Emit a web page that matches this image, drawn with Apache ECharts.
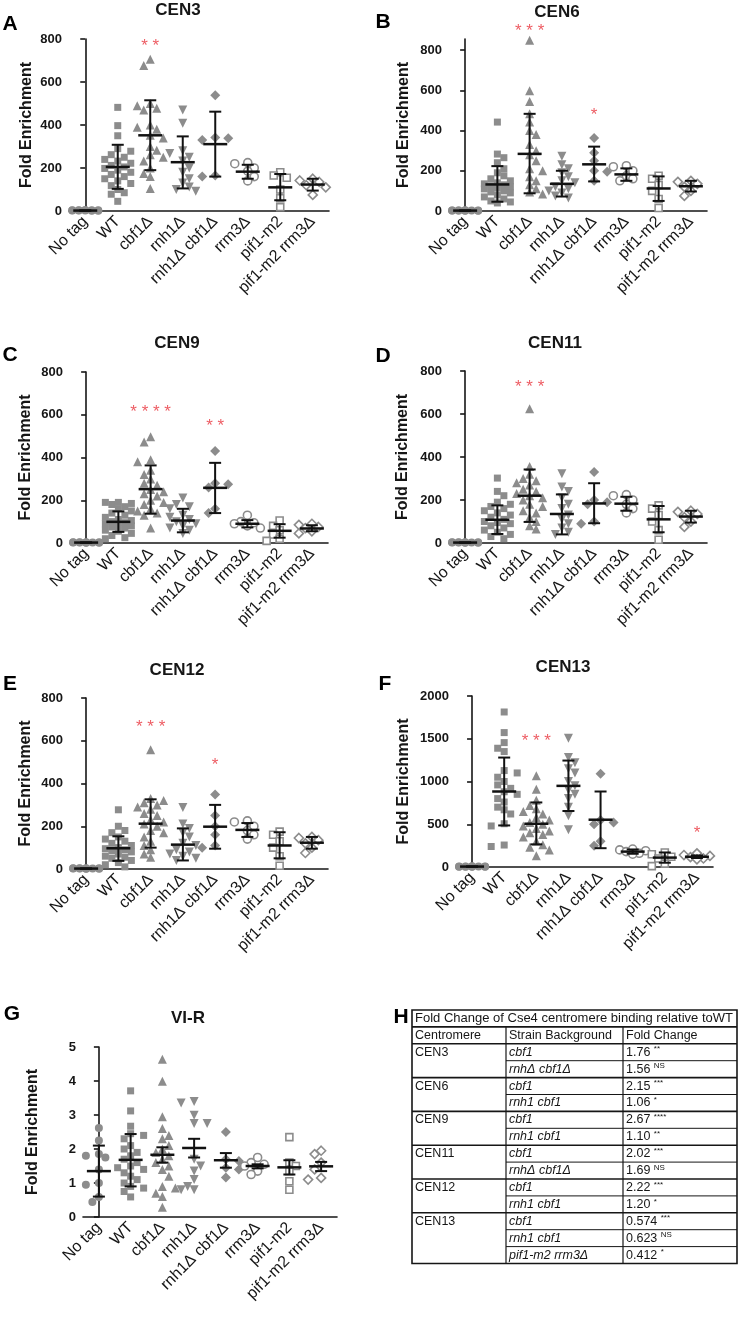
<!DOCTYPE html>
<html>
<head>
<meta charset="utf-8">
<script src="https://cdn.jsdelivr.net/npm/echarts@6.0.0/dist/echarts.min.js"></script>
<style>
  html, body { margin: 0; padding: 0; background: #fff; }
  #chart { width: 740px; height: 1319px; }
</style>
</head>
<body>
<div id="chart"></div>
<script>
// strains on every x axis
const categories = ['No tag', 'WT', 'cbf1Δ', 'rnh1Δ', 'rnh1Δ cbf1Δ', 'rrm3Δ', 'pif1-m2', 'pif1-m2 rrm3Δ'];

// CEN3 (A)
const cen3 = [
  [1, 2, 3, 2, 4, 1, 3, 5, 2, 3],
  [482, 397, 350, 290, 278, 262, 250, 240, 232, 222, 212, 205, 198, 190, 180, 170, 160, 150, 140, 128, 118, 100, 85, 78, 45],
  [706, 677, 500, 490, 478, 470, 400, 390, 380, 352, 340, 300, 282, 262, 250, 232, 200, 175, 160, 105],
  [470, 408, 280, 268, 250, 232, 200, 180, 150, 130, 112, 100, 92],
  [538, 342, 338, 330, 165, 160],
  [225, 220, 200, 185, 160, 140],
  [180, 165, 155, 100, 60, 18],
  [150, 142, 135, 120, 110, 75]
];
const cen3Mean = [2, 205, 352, 227, 311, 183, 110, 123];
const cen3Lo = [1, 103, 190, 105, 160, 150, 50, 95];
const cen3Hi = [3, 308, 515, 347, 462, 215, 172, 150];
const cen3Stars = [[2, 786, '* *']];

// CEN6 (B)
const cen6 = [
  [1, 2, 3, 2, 4, 1, 3, 2, 2, 3],
  [442, 283, 265, 240, 210, 190, 175, 160, 150, 140, 135, 130, 125, 120, 115, 110, 100, 95, 90, 80, 70, 60, 50, 45, 40],
  [849, 598, 544, 483, 442, 400, 380, 330, 300, 280, 250, 210, 200, 170, 150, 130, 110, 95, 85],
  [272, 230, 210, 190, 170, 150, 140, 120, 110, 100, 90, 75, 65],
  [363, 290, 250, 200, 195, 150],
  [225, 220, 200, 175, 160, 150],
  [175, 160, 130, 100, 60, 15],
  [150, 145, 135, 120, 100, 75]
];
const cen6Mean = [2, 132, 284, 135, 232, 182, 112, 123];
const cen6Lo = [1, 46, 88, 72, 147, 150, 50, 97];
const cen6Hi = [3, 223, 483, 200, 320, 212, 172, 150];
const cen6Stars = [[2, 912, '* * *'], [4, 497, '*']];

// CEN9 (C)
const cen9 = [
  [1, 2, 3, 2, 4, 1, 3, 2, 2, 3],
  [190, 190, 185, 180, 170, 160, 150, 140, 130, 120, 110, 105, 100, 95, 90, 85, 80, 75, 70, 60, 55, 45, 35, 25, 20],
  [497, 472, 390, 380, 340, 320, 300, 280, 270, 250, 240, 230, 220, 200, 190, 180, 160, 150, 140, 130, 70],
  [210, 180, 170, 160, 130, 120, 110, 100, 90, 80, 70, 60, 45],
  [430, 280, 275, 260, 160, 140],
  [130, 100, 95, 90, 80, 70],
  [105, 80, 60, 40, 20, 10],
  [90, 85, 75, 70, 55, 45]
];
const cen9Mean = [2, 99, 252, 105, 258, 90, 57, 68];
const cen9Lo = [1, 52, 137, 50, 140, 73, 25, 55];
const cen9Hi = [3, 148, 363, 160, 375, 107, 88, 83];
const cen9Stars = [[2, 629, '* * * *'], [4, 564, '* *']];

// CEN11 (D)
const cen11 = [
  [1, 2, 3, 2, 4, 1, 3, 2, 2, 3],
  [302, 240, 220, 190, 180, 170, 160, 150, 140, 130, 120, 110, 100, 95, 90, 80, 70, 60, 50, 40, 30, 20],
  [625, 356, 320, 300, 290, 280, 270, 250, 240, 230, 220, 210, 200, 180, 170, 150, 140, 120, 100, 80, 65],
  [322, 260, 240, 210, 180, 160, 130, 110, 90, 70, 50, 40],
  [330, 200, 190, 180, 100, 90],
  [225, 220, 200, 180, 160, 140],
  [175, 160, 130, 100, 60, 15],
  [150, 145, 135, 120, 100, 75]
];
const cen11Mean = [2, 108, 220, 135, 184, 183, 110, 123];
const cen11Lo = [1, 42, 98, 40, 92, 150, 50, 95];
const cen11Hi = [3, 175, 342, 226, 278, 215, 172, 150];
const cen11Stars = [[2, 745, '* * *']];

// CEN12 (E)
const cen12 = [
  [1, 2, 3, 2, 4, 1, 3, 2, 2, 3],
  [277, 200, 180, 170, 150, 140, 130, 120, 110, 100, 95, 90, 85, 80, 70, 60, 55, 50, 40, 30, 20, 10],
  [558, 330, 320, 310, 300, 290, 280, 260, 250, 230, 220, 210, 200, 180, 170, 150, 130, 110, 90, 70, 55],
  [288, 210, 190, 170, 150, 120, 110, 90, 80, 70, 60, 50, 40],
  [349, 250, 200, 160, 110, 100],
  [225, 220, 200, 180, 160, 140],
  [175, 160, 130, 100, 60, 15],
  [150, 145, 135, 120, 100, 75]
];
const cen12Mean = [2, 97, 212, 114, 198, 183, 110, 123];
const cen12Lo = [1, 38, 100, 40, 95, 150, 50, 95];
const cen12Hi = [3, 153, 326, 190, 300, 215, 172, 150];
const cen12Stars = [[2, 683, '* * *'], [4, 504, '*']];

// CEN13 (F)
const cen13 = [
  [3, 5, 8, 4, 6, 2, 7, 5, 4, 6],
  [1813, 1572, 1455, 1389, 1350, 1128, 1100, 1050, 1000, 960, 920, 880, 850, 800, 760, 700, 669, 620, 506, 480, 257, 240],
  [1066, 910, 780, 720, 680, 650, 620, 580, 550, 520, 500, 480, 450, 420, 400, 380, 350, 300, 260, 230, 200, 132],
  [1506, 1280, 1220, 1150, 1100, 1000, 950, 900, 850, 800, 700, 600, 436],
  [1090, 550, 520, 500, 300, 250],
  [210, 200, 190, 180, 160, 150],
  [170, 150, 120, 100, 40, 10],
  [160, 140, 130, 115, 100, 90]
];
const cen13Mean = [5, 883, 506, 949, 553, 180, 110, 120];
const cen13Lo = [3, 486, 265, 655, 220, 155, 50, 105];
const cen13Hi = [7, 1280, 755, 1245, 883, 205, 170, 135];
const cen13Stars = [[2, 1514, '* * *'], [7, 436, '*']];

// VI-R (G)
const vir = [
  [2.62, 2.25, 1.85, 1.8, 1.75, 1.4, 1.0, 0.95, 0.59, 0.44],
  [3.71, 3.12, 2.67, 2.45, 2.4, 2.3, 2.1, 2.0, 1.9, 1.8, 1.7, 1.6, 1.5, 1.45, 1.4, 1.3, 1.2, 1.1, 1.0, 0.9, 0.85, 0.75, 0.59],
  [4.64, 3.99, 2.95, 2.6, 2.4, 2.3, 2.1, 2.0, 1.9, 1.8, 1.7, 1.6, 1.5, 1.4, 1.2, 0.9, 0.85, 0.7, 0.6, 0.29],
  [3.4, 3.35, 2.99, 2.75, 2.75, 1.7, 1.5, 1.35, 1.1, 0.9, 0.8, 0.8],
  [2.5, 1.7, 1.65, 1.45, 1.4, 1.16],
  [1.75, 1.6, 1.55, 1.5, 1.35, 1.25],
  [2.35, 1.6, 1.5, 1.35, 1.05, 0.8],
  [1.95, 1.85, 1.6, 1.4, 1.15, 1.1]
];
const virMean = [1.35, 1.68, 1.83, 2.03, 1.67, 1.5, 1.46, 1.49];
const virLo = [0.6, 0.9, 1.6, 1.75, 1.45, 1.43, 1.25, 1.35];
const virHi = [2.1, 2.44, 2.05, 2.3, 1.88, 1.55, 1.67, 1.62];

// table H
const tableTitle = 'Fold Change of Cse4 centromere binding relative toWT';
const tableHeader = ['Centromere', 'Strain Background', 'Fold Change'];
const tableCentromere = ['CEN3', '', 'CEN6', '', 'CEN9', '', 'CEN11', '', 'CEN12', '', 'CEN13', '', ''];
const tableStrain = ['cbf1', 'rnhΔ cbf1Δ', 'cbf1', 'rnh1 cbf1', 'cbf1', 'rnh1 cbf1', 'cbf1', 'rnhΔ cbf1Δ', 'cbf1', 'rnh1 cbf1', 'cbf1', 'rnh1 cbf1', 'pif1-m2 rrm3Δ'];
const tableFold = ['1.76', '1.56', '2.15', '1.06', '2.67', '1.10', '2.02', '1.69', '2.22', '1.20', '0.574', '0.623', '0.412'];
const tableSig = ['**', 'NS', '***', '*', '****', '**', '***', 'NS', '***', '*', '***', 'NS', '*'];

const FONT = '"Liberation Sans", Arial, Helvetica, sans-serif';
const INK = '#161616';
const GREY = '#8c8c8c';
const RED = '#e8333c';

// marker per strain
const marks = [
  { symbol: 'circle', size: 8, fill: true, rotate: 0 },
  { symbol: 'rect', size: 7, fill: true, rotate: 0 },
  { symbol: 'triangle', size: 9, fill: true, rotate: 0 },
  { symbol: 'triangle', size: 9, fill: true, rotate: 180 },
  { symbol: 'diamond', size: 10, fill: true, rotate: 0 },
  { symbol: 'circle', size: 8, fill: false, rotate: 0 },
  { symbol: 'rect', size: 7, fill: false, rotate: 0 },
  { symbol: 'diamond', size: 9, fill: false, rotate: 0 }
];

const panels = [
  { letter: 'A', title: 'CEN3', groups: cen3, mean: cen3Mean, lo: cen3Lo, hi: cen3Hi, stars: cen3Stars,
    max: 800, step: 200, grid: { left: 69, top: 39, width: 260, height: 172 }, nameGap: 34, letterAt: [10, 24], titleAt: [178, 10] },
  { letter: 'B', title: 'CEN6', groups: cen6, mean: cen6Mean, lo: cen6Lo, hi: cen6Hi, stars: cen6Stars,
    max: 855, step: 200, grid: { left: 449, top: 39, width: 258, height: 172 }, nameGap: 37, letterAt: [383, 22], titleAt: [557, 12] },
  { letter: 'C', title: 'CEN9', groups: cen9, mean: cen9Mean, lo: cen9Lo, hi: cen9Hi, stars: cen9Stars,
    max: 800, step: 200, grid: { left: 70, top: 372, width: 258, height: 171 }, nameGap: 36, letterAt: [10, 355], titleAt: [177, 343] },
  { letter: 'D', title: 'CEN11', groups: cen11, mean: cen11Mean, lo: cen11Lo, hi: cen11Hi, stars: cen11Stars,
    max: 800, step: 200, grid: { left: 449, top: 371, width: 258, height: 172 }, nameGap: 38, letterAt: [383, 356], titleAt: [555, 343] },
  { letter: 'E', title: 'CEN12', groups: cen12, mean: cen12Mean, lo: cen12Lo, hi: cen12Hi, stars: cen12Stars,
    max: 800, step: 200, grid: { left: 70, top: 698, width: 258, height: 171 }, nameGap: 36, letterAt: [10, 684], titleAt: [177, 670] },
  { letter: 'F', title: 'CEN13', groups: cen13, mean: cen13Mean, lo: cen13Lo, hi: cen13Hi, stars: cen13Stars,
    max: 2000, step: 500, grid: { left: 456, top: 696, width: 257, height: 171 }, nameGap: 44, letterAt: [385, 684], titleAt: [563, 667] },
  { letter: 'G', title: 'VI-R', groups: vir, mean: virMean, lo: virLo, hi: virHi, stars: [],
    max: 5, step: 1, grid: { left: 83, top: 1047, width: 254, height: 170 }, nameGap: 42, letterAt: [12, 1014], titleAt: [188, 1018] }
];

// spread points sideways like a dot plot so that close values don't sit on top of each other
function spread(values, pxPerUnit, band, size) {
  const order = values.map((v, i) => i).sort((a, b) => values[b] - values[a]);
  const placed = [];
  const dx = new Array(values.length).fill(0);
  const stepPx = 6.5, limit = band * 0.42;
  order.forEach((i, n) => {
    const y = values[i] * pxPerUnit;
    const sign = n % 2 ? -1 : 1;
    const cands = [0];
    for (let k = 1; k * stepPx <= limit; k++) cands.push(sign * k * stepPx, -sign * k * stepPx);
    let best = 0, bestGap = -1;
    for (const c of cands) {
      let gap = Infinity;
      placed.forEach(p => { gap = Math.min(gap, Math.hypot(p[0] - c, p[1] - y)); });
      if (gap >= size) { best = c; break; }
      if (gap > bestGap) { bestGap = gap; best = c; }
    }
    dx[i] = best;
    placed.push([best, y]);
  });
  return dx.map(d => d / band);
}

const grids = [], xAxes = [], yAxes = [], series = [], graphics = [];

panels.forEach((p, k) => {
  grids.push(Object.assign({ outerBoundsMode: 'none', containLabel: false }, p.grid));
  const ticks = [];
  for (let v = 0; v <= p.max + 1e-9; v += p.step) ticks.push(+v.toFixed(6));

  xAxes.push({
    type: 'category', gridIndex: k, data: categories, boundaryGap: true,
    axisLine: { lineStyle: { color: INK, width: 1.6 } },
    axisTick: { alignWithLabel: true, length: 5, lineStyle: { color: INK, width: 1.6 } },
    axisLabel: { interval: 0, rotate: 45, margin: 8, color: INK, fontFamily: FONT, fontSize: 16 },
    splitLine: { show: false }
  });
  xAxes.push({ type: 'value', gridIndex: k, min: -0.5, max: 7.5, show: false, splitLine: { show: false } });

  yAxes.push({
    type: 'value', gridIndex: k, min: 0, max: p.max, interval: p.step,
    name: 'Fold Enrichment', nameLocation: 'middle', nameRotate: 90, nameGap: p.nameGap,
    nameTextStyle: { color: INK, fontFamily: FONT, fontWeight: 'bold', fontSize: 16 },
    axisLine: { show: true, lineStyle: { color: INK, width: 1.6 } },
    axisTick: { show: true, length: 5, lineStyle: { color: INK, width: 1.6 }, customValues: ticks },
    axisLabel: { color: INK, fontFamily: FONT, fontWeight: 'bold', fontSize: 13, margin: 7, customValues: ticks,
      formatter: v => (ticks.indexOf(v) >= 0 ? String(v) : '') },
    splitLine: { show: false }
  });

  const pxPerUnit = p.grid.height / p.max;
  const band = p.grid.width / categories.length;

  p.groups.forEach((vals, g) => {
    const m = marks[g];
    const off = spread(vals, pxPerUnit, band, 7);
    series.push({
      type: 'scatter', xAxisIndex: 2 * k + 1, yAxisIndex: k, silent: true, z: 2,
      symbol: m.symbol, symbolSize: m.size, symbolRotate: m.rotate,
      itemStyle: m.fill
        ? { color: GREY, opacity: 1 }
        : { color: '#ffffff', borderColor: GREY, borderWidth: 1.6, opacity: 1 },
      data: vals.map((v, i) => [g + off[i], v])
    });
  });

  series.push({
    type: 'custom', xAxisIndex: 2 * k + 1, yAxisIndex: k, silent: true, z: 5, clip: false,
    data: p.mean.map((m, i) => [i, m, p.lo[i], p.hi[i]]),
    renderItem: (params, api) => {
      const pm = api.coord([api.value(0), api.value(1)]);
      const pl = api.coord([api.value(0), api.value(2)]);
      const ph = api.coord([api.value(0), api.value(3)]);
      const st = { stroke: '#111', lineWidth: 2 };
      return {
        type: 'group',
        children: [
          { type: 'line', shape: { x1: ph[0], y1: ph[1], x2: pl[0], y2: pl[1] }, style: st },
          { type: 'line', shape: { x1: ph[0] - 6, y1: ph[1], x2: ph[0] + 6, y2: ph[1] }, style: st },
          { type: 'line', shape: { x1: pl[0] - 6, y1: pl[1], x2: pl[0] + 6, y2: pl[1] }, style: st },
          { type: 'line', shape: { x1: pm[0] - 12, y1: pm[1], x2: pm[0] + 12, y2: pm[1] }, style: { stroke: '#111', lineWidth: 2.5 } }
        ]
      };
    }
  });

  if (p.stars.length) {
    series.push({
      type: 'scatter', xAxisIndex: 2 * k + 1, yAxisIndex: k, silent: true, z: 6, clip: false,
      symbolSize: 0,
      data: p.stars.map(s => ({
        value: [s[0], s[1]],
        label: { show: true, position: 'inside', formatter: s[2], color: RED, fontFamily: FONT, fontSize: 17, offset: [0, 4] }
      }))
    });
  }

  graphics.push({
    type: 'text', x: p.titleAt[0], y: p.titleAt[1],
    style: { text: p.title, fill: INK, fontFamily: FONT, fontWeight: 'bold', fontSize: 17,
      align: 'center', verticalAlign: 'middle', textAlign: 'center', textVerticalAlign: 'middle' }
  });
  graphics.push({
    type: 'text', x: p.letterAt[0], y: p.letterAt[1],
    style: { text: p.letter, fill: '#000', fontFamily: FONT, fontWeight: 'bold', fontSize: 21,
      align: 'center', verticalAlign: 'middle', textAlign: 'center', textVerticalAlign: 'middle' }
  });
});

// table H
const T = { left: 412, right: 737, top: 1010, rowH: 16.9, col1: 506, col2: 623 };
const nRows = 2 + tableStrain.length;
const tBottom = T.top + nRows * T.rowH;
const cellText = (x, y, text, extra) => ({
  type: 'text', x: x, y: y,
  style: Object.assign({ text: text, fill: INK, fontFamily: FONT, fontSize: 12.5,
    align: 'left', verticalAlign: 'middle', textAlign: 'left', textVerticalAlign: 'middle' }, extra || {})
});
const hLine = (x1, x2, y, w) => ({ type: 'line', shape: { x1: x1, y1: y, x2: x2, y2: y }, style: { stroke: INK, lineWidth: w } });

graphics.push({
  type: 'text', x: 401, y: 1017,
  style: { text: 'H', fill: '#000', fontFamily: FONT, fontWeight: 'bold', fontSize: 21,
    align: 'center', verticalAlign: 'middle', textAlign: 'center', textVerticalAlign: 'middle' }
});
graphics.push({ type: 'rect', shape: { x: T.left, y: T.top, width: T.right - T.left, height: tBottom - T.top },
  style: { fill: '#fff', stroke: INK, lineWidth: 1.6 }, z: 0 });
graphics.push(cellText(T.left + 3, T.top + T.rowH / 2, tableTitle, { fontSize: 13 }));
graphics.push(hLine(T.left, T.right, T.top + T.rowH, 1.6));
graphics.push(cellText(T.left + 3, T.top + 1.5 * T.rowH, tableHeader[0]));
graphics.push(cellText(T.col1 + 3, T.top + 1.5 * T.rowH, tableHeader[1]));
graphics.push(cellText(T.col2 + 3, T.top + 1.5 * T.rowH, tableHeader[2]));
graphics.push(hLine(T.left, T.right, T.top + 2 * T.rowH, 1.6));
[T.col1, T.col2].forEach(x => graphics.push({ type: 'line',
  shape: { x1: x, y1: T.top + T.rowH, x2: x, y2: tBottom }, style: { stroke: INK, lineWidth: 1.2 } }));

tableStrain.forEach((s, r) => {
  const yc = T.top + (r + 2.5) * T.rowH;
  if (tableCentromere[r]) graphics.push(cellText(T.left + 3, yc, tableCentromere[r]));
  graphics.push(cellText(T.col1 + 3, yc, s, { fontStyle: 'italic' }));
  graphics.push(cellText(T.col2 + 3, yc, '{v|' + tableFold[r] + '} {s|' + tableSig[r] + '}', {
    rich: {
      v: { fontFamily: FONT, fontSize: 12.5, color: INK, lineHeight: 14 },
      s: { fontFamily: FONT, fontSize: 8, color: INK, lineHeight: 14, verticalAlign: 'top' }
    }
  }));
  const yb = T.top + (r + 3) * T.rowH;
  if (r === tableStrain.length - 1) return;
  if (tableCentromere[r + 1]) graphics.push(hLine(T.left, T.right, yb, 1.6));
  else graphics.push(hLine(T.col1, T.right, yb, 1));
});

const chart = echarts.init(document.getElementById('chart'), null, { renderer: 'canvas' });
chart.setOption({
  backgroundColor: '#ffffff',
  animation: false,
  grid: grids,
  xAxis: xAxes,
  yAxis: yAxes,
  series: series,
  graphic: { elements: graphics }
});
</script>
</body>
</html>
